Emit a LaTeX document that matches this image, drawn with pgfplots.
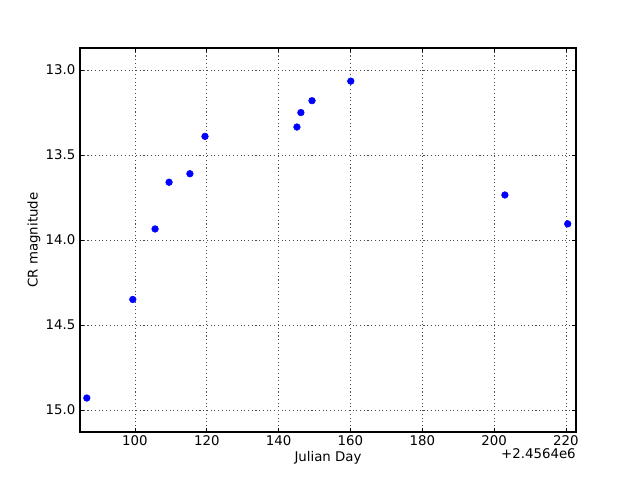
\documentclass[border=0pt]{standalone}
\usepackage{pgfplots}
\pgfplotsset{compat=1.18}
\usepackage{fontspec}
\setmainfont{DejaVu Sans}
\begin{document}
\fontsize{10}{12}\selectfont
\begin{tikzpicture}
\useasboundingbox (0,0) rectangle (480pt,360pt);
\begin{axis}[
  at={(60pt,36pt)}, anchor=south west,
  scale only axis, width=372pt, height=288pt,
  xmin=84.7, xmax=222.8,
  ymin=12.87, ymax=15.13,
  y dir=reverse,
  xtick={100,120,...,220},
  ytick={13.0,13.5,14.0,14.5,15.0},
  yticklabel style={/pgf/number format/.cd, fixed, fixed zerofill, precision=1},
  /pgf/number format/assume math mode=true,
  tick align=inside,
  major tick length=3pt,
  grid=major,
  major grid style={black!70, dash pattern=on 0.8pt off 2pt, line width=0.5pt},
  axis line style={line width=0.8pt},
  every tick/.style={black, line width=0.5pt},
  tick label style={font=\fontsize{10}{12}\selectfont},
  xticklabel style={inner sep=2.8pt},
  xlabel={Julian Day},
  ylabel={CR magnitude},
  every axis x label/.style={at={(axis description cs:0.5,0)}, anchor=center, yshift=-19pt},
  every axis y label/.style={at={(axis description cs:0,0.5)}, rotate=90, anchor=center, yshift=34.5pt},
  clip=false,
]
\addplot[only marks, mark=*, mark size=2.5pt, mark options={fill=blue, draw=blue}] coordinates {
(86.6,14.93)
(99.4,14.35)
(105.6,13.935)
(109.5,13.66)
(115.3,13.61)
(119.5,13.39)
(145.1,13.335)
(146.2,13.25)
(149.3,13.18)
(160.1,13.065)
(203.0,13.735)
(220.5,13.905)
};
\node[anchor=east, inner sep=0pt] at (rel axis cs:1,0) [yshift=-16.5pt] {+2.4564e6};
\end{axis}
\end{tikzpicture}
\end{document}
